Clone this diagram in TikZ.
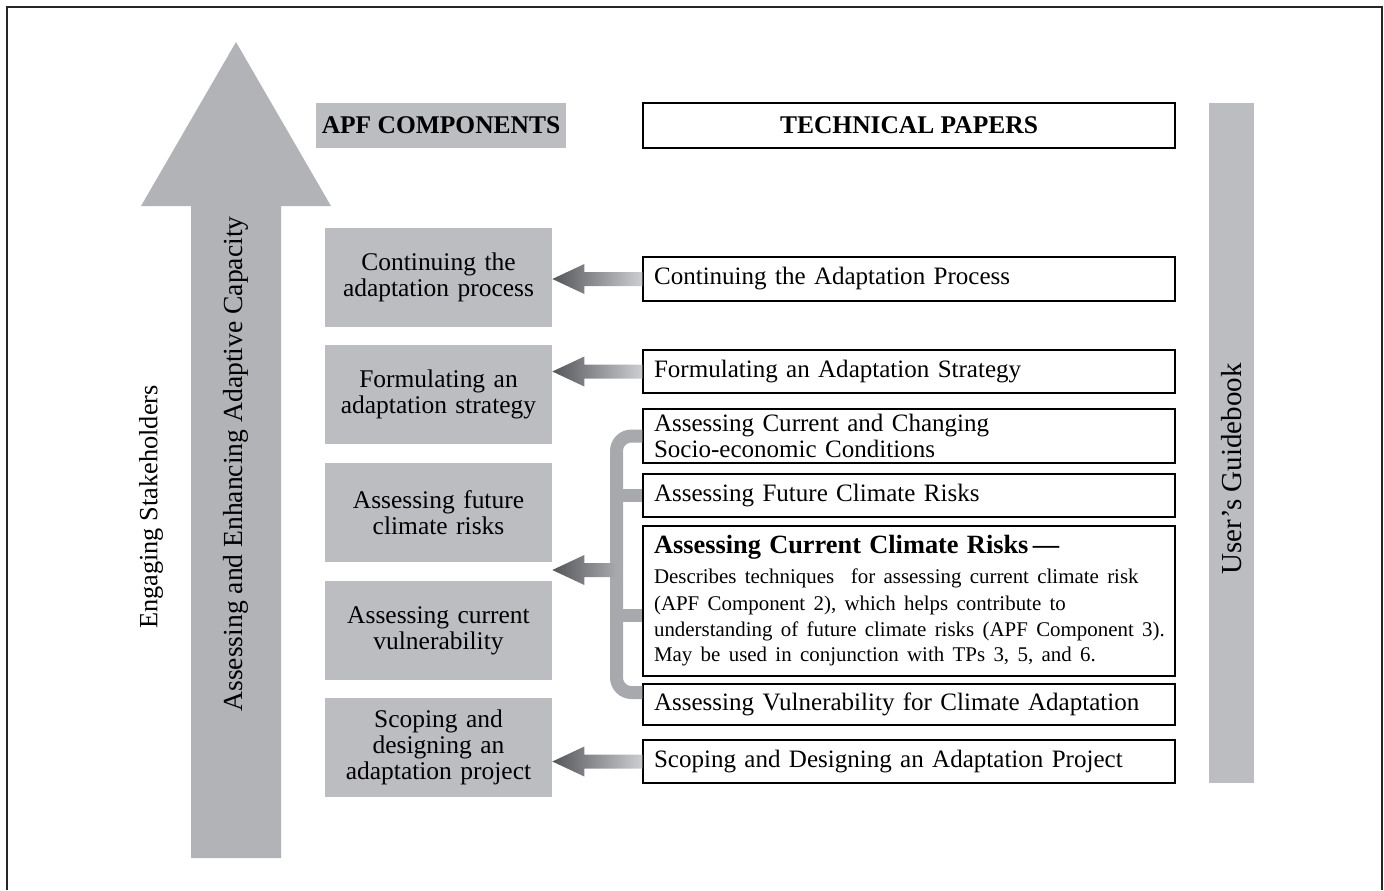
\documentclass[tikz,border=0pt]{standalone}
\usepackage{fontspec}
\setmainfont{Liberation Serif}
\usetikzlibrary{calc}

\definecolor{apfgray}{RGB}{188,189,193}
\definecolor{bigarrow}{RGB}{178,179,183}
\definecolor{arrowdark}{RGB}{85,86,90}
\definecolor{arrowlight}{RGB}{205,206,210}
\definecolor{bracegray}{RGB}{168,169,173}

% shaded arrow from a technical paper (#1) to a component (#2)
\newcommand{\tparrow}[2]{%
\shade[left color=arrowdark, right color=arrowlight]
  (#2.east |- #1.west) -- ++(32,-15) -- ++(0,8) -- ($(#1.west)+(0,-7)$)
  -- ($(#1.west)+(0,7)$) -- ($(#2.east |- #1.west)+(32,7)$) -- ++(0,8) -- cycle;
}

\begin{document}
\begin{tikzpicture}[x=0.02cm,y=-0.02cm,
  comp/.style={fill=apfgray, minimum width=4.54cm, minimum height=1.98cm,
    text width=4.4cm, align=center, inner sep=0pt,
    font=\fontsize{14.5}{15}\selectfont},
  paper/.style={draw, line width=0.8pt, text width=10.2cm, align=left,
    inner xsep=0.22cm, inner ysep=0pt, font=\fontsize{14.25}{14.5}\selectfont},
  side/.style={rotate=90, font=\fontsize{15.7}{17}\selectfont}]

\useasboundingbox (0,0) rectangle (1384,890);

% frame
\draw [line width=1.3pt, black!85] (7,890) -- (7,7) -- (1382,7) -- (1382,890);

% big arrow
\fill [bigarrow] (236,42) -- (331,206) -- (281,206) -- (281,858) -- (191,858)
  -- (191,206) -- (141,206) -- cycle;
\node[side, font=\fontsize{15}{17}\selectfont] (engage) at (151,507) {Engaging Stakeholders};
\node[side] (capacity) at (236,464) {Assessing and Enhancing Adaptive Capacity};

% headers
\node[fill=apfgray, minimum width=5cm, minimum height=0.9cm, inner sep=0pt,
  font=\fontsize{14.5}{15}\selectfont\bfseries] (apfhead) at (441,125.5) {APF COMPONENTS};
\node[draw, line width=0.8pt, minimum width=10.64cm, minimum height=0.9cm, inner sep=0pt,
  font=\fontsize{14.5}{15}\selectfont\bfseries] (tphead) at (909,125.5) {TECHNICAL PAPERS};

% user's guidebook
\node[fill=apfgray, minimum width=0.9cm, minimum height=13.6cm, inner sep=0pt] (guide) at (1231.5,443) {};
\node[rotate=90, font=\fontsize{16.5}{18}\selectfont] (guidetext) at (1231.5,469) {User’s Guidebook};

% APF components
\foreach \n/\y/\t in {5/277.5/{Continuing the\\adaptation process},
  4/394.5/{Formulating an\\adaptation strategy},
  3/512.5/{Assessing future\\climate risks},
  2/630.5/{Assessing current\\vulnerability},
  1/747.5/{Scoping and\\designing an\\adaptation project}}
{
\node[comp] (c\n) at (438.5,\y) {\t};
}

% technical papers
\node[paper, minimum height=0.88cm] (tp1) at (909,279) {Continuing the Adaptation Process};
\node[paper, minimum height=0.86cm] (tp2) at (909,371.5) {Formulating an Adaptation Strategy};
\node[paper, minimum height=1.08cm] (tp3) at (909,436) {Assessing Current and Changing\\Socio-economic Conditions};
\node[paper, minimum height=0.86cm] (tp4) at (909,495.5) {Assessing Future Climate Risks};
\node[paper, minimum height=3cm] (tp5) at (909,601)
  {{\fontsize{15}{15}\selectfont\bfseries Assessing Current Climate Risks\,---}\\[2pt]
   {\fontsize{11.9}{15}\selectfont Describes techniques\ \ for assessing current climate risk\\
   (APF Component 2), which helps contribute to\\
   \mbox{understanding of future climate risks (APF Component 3).}\\
   May be used in conjunction with TPs 3, 5, and 6.}};
\node[paper, minimum height=0.82cm] (tp6) at (909,704.5) {Assessing Vulnerability for Climate Adaptation};
\node[paper, minimum height=0.86cm] (tp7) at (909,761.5) {Scoping and Designing an Adaptation Project};

% arrows
\tparrow{tp1}{c5}
\tparrow{tp2}{c4}
\tparrow{tp7}{c1}

% bracket
\coordinate (brace) at (616.5,570);
\draw [bracegray, line width=0.26cm, rounded corners=0.3cm]
  (tp3.west) -| (brace) |- ($(tp6.west)+(0,-12)$);
\draw [bracegray, line width=0.26cm] (brace |- tp4.west) -- (tp4.west);
\draw [bracegray, line width=0.26cm] ($(brace |- tp5.west)+(0,14)$) -- ($(tp5.west)+(0,14)$);
\shade [left color=arrowdark, right color=bracegray]
  (c3.east |- brace) -- ++(32,-15) -- ++(0,8) -- ($(brace)+(0,-7)$)
  -- ($(brace)+(0,7)$) -- ($(c3.east |- brace)+(32,7)$) -- ++(0,8) -- cycle;

\end{tikzpicture}
\end{document}
